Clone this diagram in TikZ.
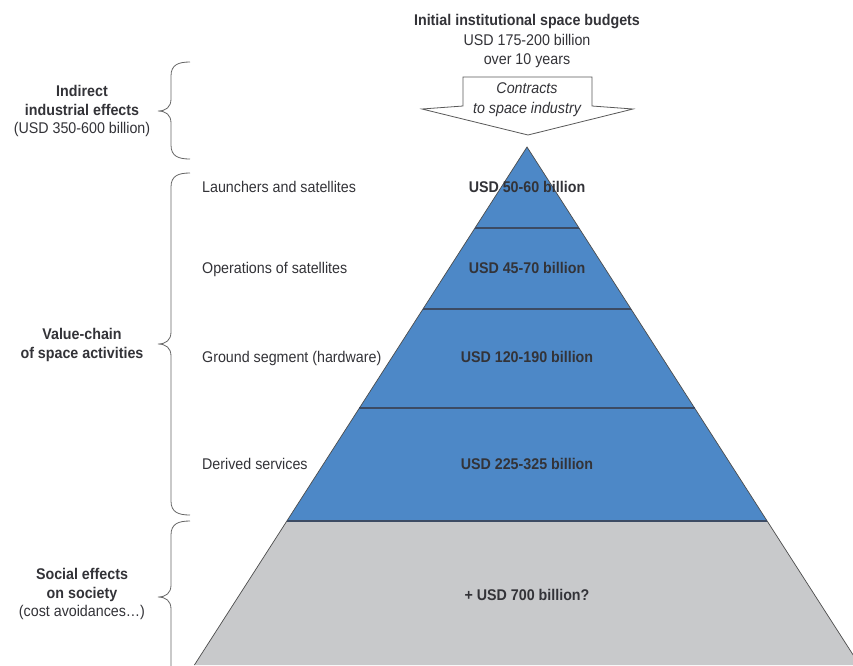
\documentclass[tikz,border=0pt]{standalone}
\usepackage{fontspec}
\setmainfont{Liberation Sans}[FakeStretch=0.92]
\definecolor{pblue}{RGB}{77,136,199}
\definecolor{pgray}{RGB}{200,201,203}
\definecolor{ptext}{RGB}{51,51,56}
\definecolor{pline}{RGB}{60,75,100}
\newcommand\mybrace[3]{%
  \draw[bracestyle] (190,#1) .. controls (178,#1) and (171,#1+3) .. (171,#1+14)
    -- (171,#2-12) .. controls (171,#2-4) and (166,#2) .. (158,#2)
    .. controls (166,#2) and (171,#2+4) .. (171,#2+12)
    -- (171,#3-14) .. controls (171,#3-3) and (178,#3) .. (190,#3);}
\begin{document}
\begin{tikzpicture}[x=1pt,y=-1pt,
  txt/.style={inner sep=0pt,text=ptext,font=\fontsize{15.5}{19}\selectfont},
  btxt/.style={txt,font=\fontsize{15.5}{19}\selectfont\bfseries},
  bracestyle/.style={draw=black!60,line width=0.8pt},
  band/.style={draw=pline,line width=1.1pt},
  edge/.style={draw=black!70,line width=0.7pt}]
\clip (0,0) rectangle (853,665);
\fill[white] (0,0) rectangle (853,665);
% pyramid
\coordinate (apex) at (527,147);
\coordinate (l1) at (475,228); \coordinate (r1) at (579,228);
\coordinate (l2) at (423,309); \coordinate (r2) at (631,309);
\coordinate (l3) at (359.4,408); \coordinate (r3) at (694.6,408);
\coordinate (l4) at (286.9,521); \coordinate (r4) at (767.1,521);
\coordinate (l5) at (194.4,665); \coordinate (r5) at (859.6,665);
\fill[pgray] (l4) -- (r4) -- (r5) -- (l5) -- cycle;
\fill[pblue] (apex) -- (r4) -- (l4) -- cycle;
\draw[edge] (l5) -- (apex) -- (r5);
\draw[band] (l1) -- (r1);
\draw[band] (l2) -- (r2);
\draw[band] (l3) -- (r3);
\draw[band] (l4) -- (r4);
% block arrow
\draw[fill=white,draw=black!65,line width=0.8pt]
  (463,77) -- (592,77) -- (592,106) -- (633,109) -- (528,135) -- (422,109) -- (463,106) -- cycle;
\node[txt,align=center,anchor=base,font=\fontsize{15.5}{19.5}\selectfont\itshape] (contracts) at (527,113) {Contracts\\to space industry};
% title
\node[txt,align=center,anchor=base,font=\fontsize{15.5}{19.5}\selectfont] (title) at (527,64.5)
  {\textbf{Initial institutional space budgets}\\USD 175-200 billion\\over 10 years};
% pyramid values
\node[btxt,anchor=base] (v1) at (527,192.5) {USD 50-60 billion};
\node[btxt,anchor=base] (v2) at (527,273.5) {USD 45-70 billion};
\node[btxt,anchor=base] (v3) at (527,362.5) {USD 120-190 billion};
\node[btxt,anchor=base] (v4) at (527,469.5) {USD 225-325 billion};
\node[btxt,anchor=base] (v5) at (527,600.5) {+ USD 700 billion?};
% layer labels
\node[txt,anchor=base west] (n1) at (202,192.5) {Launchers and satellites};
\node[txt,anchor=base west] (n2) at (202,273.5) {Operations of satellites};
\node[txt,anchor=base west] (n3) at (202,362.5) {Ground segment (hardware)};
\node[txt,anchor=base west] (n4) at (202,469.5) {Derived services};
% group labels
\node[txt,align=center,anchor=base,font=\fontsize{15.5}{18.5}\selectfont] (g1) at (82,133.5)
  {\textbf{Indirect}\\\textbf{industrial effects}\\(USD 350-600 billion)};
\node[txt,align=center,anchor=base] (g2) at (82,358.5)
  {\textbf{Value-chain}\\\textbf{of space activities}};
\node[txt,align=center,anchor=base,font=\fontsize{15.5}{18.5}\selectfont] (g3) at (82,616.5)
  {\textbf{Social effects}\\\textbf{on society}\\(cost avoidances\ldots)};
% braces
\mybrace{62}{111}{159}
\mybrace{173}{344}{515}
\mybrace{521}{597}{700}
\end{tikzpicture}
\end{document}
